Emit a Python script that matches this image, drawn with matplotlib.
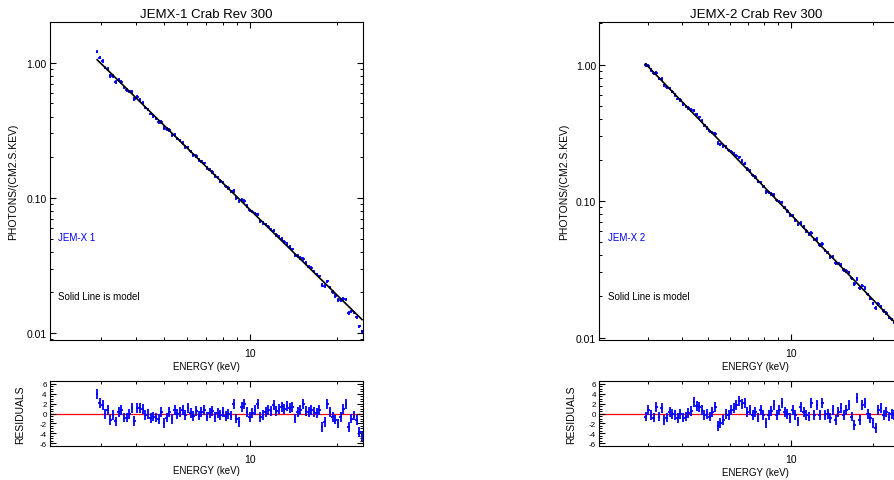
import numpy as np
import matplotlib
matplotlib.use('Agg')
import matplotlib.pyplot as plt
from matplotlib.ticker import FixedLocator, FixedFormatter, NullFormatter, MultipleLocator

plt.rcParams['font.family'] = ['Liberation Sans', 'DejaVu Sans']
plt.rcParams['axes.unicode_minus'] = False

# JEM-X 1 spectrum (keV, photons/cm2/s/keV, normalised residuals)
energy_1 = [
    2.92, 2.98, 3.05, 3.11, 3.18, 3.25, 3.32, 3.39, 3.47, 3.54,
    3.62, 3.70, 3.78, 3.86, 3.94, 4.03, 4.12, 4.21, 4.30, 4.39,
    4.49, 4.59, 4.69, 4.79, 4.89, 5.00, 5.11, 5.22, 5.33, 5.45,
    5.56, 5.68, 5.81, 5.93, 6.06, 6.19, 6.33, 6.47, 6.61, 6.75,
    6.90, 7.05, 7.20, 7.36, 7.52, 7.68, 7.85, 8.02, 8.19, 8.37,
    8.55, 8.74, 8.93, 9.12, 9.32, 9.52, 9.72, 9.94, 10.15, 10.37,
    10.60, 10.83, 11.06, 11.30, 11.55, 11.80, 12.06, 12.32, 12.59, 12.86,
    13.14, 13.43, 13.72, 14.02, 14.32, 14.63, 14.95, 15.28, 15.61, 15.95,
    16.29, 16.65, 17.01, 17.38, 17.76, 18.14, 18.54, 18.94, 19.35, 19.77,
    20.20, 20.64, 21.09, 21.55, 22.02, 22.50, 22.98, 23.48, 23.99, 24.51]
flux_1 = [
    1.21, 1.09, 1.03, 0.920, 0.904, 0.797, 0.798, 0.720, 0.745, 0.723,
    0.657, 0.628, 0.613, 0.608, 0.537, 0.557, 0.532, 0.507, 0.466, 0.450,
    0.421, 0.405, 0.386, 0.366, 0.364, 0.328, 0.323, 0.318, 0.293, 0.293,
    0.275, 0.266, 0.256, 0.239, 0.237, 0.221, 0.208, 0.204, 0.191, 0.186,
    0.180, 0.166, 0.162, 0.156, 0.145, 0.142, 0.134, 0.130, 0.122, 0.118,
    0.112, 0.113, 0.100, 0.0943, 0.0973, 0.0946, 0.0868, 0.0810, 0.0792, 0.0767,
    0.0757, 0.0677, 0.0654, 0.0636, 0.0614, 0.0585, 0.0574, 0.0534, 0.0517, 0.0499,
    0.0471, 0.0458, 0.0434, 0.0416, 0.0376, 0.0372, 0.0359, 0.0354, 0.0329, 0.0311,
    0.0302, 0.0285, 0.0272, 0.0263, 0.0227, 0.0224, 0.0242, 0.0218, 0.0201, 0.0189,
    0.0176, 0.0176, 0.0179, 0.0178, 0.0141, 0.0145, 0.0142, 0.0131, 0.0112, 0.0103]
resid_1 = [
    3.9, 2.1, 1.7, 0.0, 0.7, -1.3, -0.2, -1.6, 0.3, 0.7,
    -0.8, -0.8, -0.1, 1.1, -1.5, 1.2, 1.1, 1.0, -0.3, 0.0,
    -0.9, -0.6, -0.8, -1.1, 0.4, -1.9, -0.8, 0.4, -1.1, 0.7,
    0.0, 0.4, 0.7, -0.3, 1.1, 0.2, -0.5, 0.6, -0.4, 0.3,
    0.8, -0.6, 0.1, 0.5, -0.7, 0.2, -0.3, 0.4, -0.5, 0.0,
    -0.4, 2.0, -1.0, -1.7, 1.3, 2.0, 0.3, -0.7, 0.2, 0.7,
    2.0, -0.7, -0.3, 0.4, 0.7, 0.6, 1.7, 0.5, 1.0, 1.4,
    0.9, 1.5, 1.1, 1.3, -1.0, 0.3, 0.7, 2.0, 0.6, 0.3,
    0.8, 0.4, 0.2, 0.7, -2.7, -1.7, 2.0, 0.3, -0.7, -1.2,
    -2.0, -0.7, 1.0, 2.0, -2.7, -1.0, -0.4, -1.3, -3.7, -4.5]

# JEM-X 2 spectrum
energy_2 = [
    2.95, 3.02, 3.09, 3.16, 3.23, 3.30, 3.38, 3.45, 3.53, 3.61,
    3.70, 3.78, 3.87, 3.95, 4.05, 4.14, 4.23, 4.33, 4.43, 4.53,
    4.63, 4.74, 4.84, 4.95, 5.07, 5.18, 5.30, 5.42, 5.54, 5.67,
    5.80, 5.93, 6.07, 6.20, 6.34, 6.49, 6.64, 6.79, 6.94, 7.10,
    7.26, 7.43, 7.60, 7.77, 7.95, 8.13, 8.31, 8.50, 8.69, 8.89,
    9.09, 9.30, 9.51, 9.73, 9.95, 10.18, 10.41, 10.64, 10.89, 11.14,
    11.39, 11.65, 11.91, 12.19, 12.46, 12.75, 13.04, 13.33, 13.63, 13.95,
    14.26, 14.59, 14.92, 15.26, 15.61, 15.96, 16.32, 16.70, 17.08, 17.47,
    17.86, 18.27, 18.69, 19.11, 19.54, 19.99, 20.45, 20.91, 21.38, 21.88,
    22.37, 22.88, 23.39, 23.93, 24.47, 25.03, 25.60, 26.18, 26.78, 27.39]
flux_2 = [
    0.996, 0.981, 0.914, 0.861, 0.868, 0.788, 0.784, 0.705, 0.681, 0.670,
    0.633, 0.599, 0.563, 0.550, 0.514, 0.493, 0.480, 0.463, 0.460, 0.432,
    0.410, 0.385, 0.358, 0.344, 0.324, 0.317, 0.310, 0.267, 0.260, 0.252,
    0.248, 0.235, 0.230, 0.222, 0.215, 0.209, 0.196, 0.188, 0.172, 0.166,
    0.154, 0.150, 0.139, 0.137, 0.128, 0.117, 0.116, 0.113, 0.111, 0.101,
    0.0990, 0.0978, 0.0895, 0.0845, 0.0789, 0.0783, 0.0729, 0.0673, 0.0692, 0.0644,
    0.0604, 0.0572, 0.0584, 0.0525, 0.0526, 0.0478, 0.0484, 0.0436, 0.0419, 0.0391,
    0.0388, 0.0352, 0.0350, 0.0341, 0.0314, 0.0307, 0.0300, 0.0271, 0.0247, 0.0269,
    0.0231, 0.0240, 0.0231, 0.0207, 0.0193, 0.0178, 0.0164, 0.0176, 0.0169, 0.0156,
    0.0152, 0.0140, 0.0136, 0.0129, 0.0126, 0.0117, 0.0114, 0.0111, 0.0101, 0.0099]
resid_2 = [
    -0.6, 0.7, -0.3, -0.8, 1.4, -0.6, 1.1, -1.3, -0.8, 0.4,
    0.0, -0.3, -0.9, 0.0, -0.8, -0.6, 0.2, 0.6, 2.3, 1.6,
    1.4, 0.7, -0.3, 0.0, -0.6, 0.4, 1.4, -2.6, -1.9, -1.3,
    0.0, -0.3, 0.7, 1.1, 1.7, 2.5, 1.9, 2.1, 0.4, 0.7,
    -0.3, 0.4, -0.8, 0.7, -0.3, -1.9, -0.3, 0.5, 1.7, -0.3,
    0.7, 2.1, 0.4, 0.0, -0.9, 0.7, -0.3, -1.6, 1.4, 0.4,
    -0.3, -0.6, 2.1, -0.3, 1.7, -0.3, 2.1, -0.3, 0.0, -0.9,
    0.7, -1.3, 0.4, 1.1, -0.3, 0.7, 1.7, -0.6, -2.3, 3.1,
    -1.3, 1.7, 2.1, 0.0, -0.9, -1.9, -2.9, 0.7, 1.1, -0.3,
    0.4, -0.6, 0.0, -0.3, 0.5, -0.4, 0.2, 0.8, -0.5, 0.3]

# power-law model parameters (norm, photon index)
model_1 = (9.77, 2.08)
model_2 = (9.6, 2.08)
flux_frac_err = 0.03


def bin_halfwidths(e):
    e = np.asarray(e)
    edges = np.sqrt(e[:-1] * e[1:])
    lo = np.concatenate([[e[0] ** 2 / edges[0]], edges])
    hi = np.concatenate([edges, [e[-1] ** 2 / edges[-1]]])
    return np.vstack([e - lo, hi - e])


def style_xaxis(ax, pad):
    ax.set_xscale('log')
    ax.xaxis.set_major_locator(FixedLocator([10]))
    ax.xaxis.set_major_formatter(FixedFormatter(['10']))
    ax.xaxis.set_minor_locator(FixedLocator([2, 3, 4, 5, 6, 7, 8, 9, 20]))
    ax.xaxis.set_minor_formatter(NullFormatter())
    ax.tick_params(axis='x', which='both', direction='in', top=True, bottom=True,
                   labelsize=7.5, pad=pad)
    ax.tick_params(axis='both', which='major', length=4.5, width=0.8)
    ax.tick_params(axis='both', which='minor', length=2.3, width=0.7)


def draw_detector(fig, left, title, label, energy, flux, resid, model, xlim, ylim,
                  ylab_x, rlab_x, rxlab_y):
    energy = np.asarray(energy)
    flux = np.asarray(flux)
    xe = bin_halfwidths(energy)
    norm, index = model

    ax = fig.add_axes([left, 0.2911, 0.3497, 0.6611])
    ax.set_yscale('log')
    ax.errorbar(energy, flux, xerr=xe, yerr=flux * flux_frac_err, fmt='none',
                ecolor='blue', elinewidth=1.3, capsize=0, zorder=2)
    ax.plot(energy, norm * energy ** -index, color='black', lw=1.2, zorder=3)
    ax.set_xlim(*xlim)
    ax.set_ylim(*ylim)
    style_xaxis(ax, 5.5)
    ax.yaxis.set_major_locator(FixedLocator([0.01, 0.1, 1.0]))
    ax.yaxis.set_major_formatter(FixedFormatter(['0.01', '0.10', '1.00']))
    ax.yaxis.set_minor_locator(FixedLocator(
        [m * d for d in (0.001, 0.01, 0.1, 1.0) for m in range(2, 10)]))
    ax.yaxis.set_minor_formatter(NullFormatter())
    ax.tick_params(axis='y', which='both', direction='in', left=True, right=True,
                   labelsize=7.5, pad=2.4)
    ax.tick_params(axis='both', which='major', length=4.5, width=0.8)
    ax.tick_params(axis='both', which='minor', length=2.3, width=0.7)
    ax.set_title(title, fontsize=9.5, pad=3.5)
    ax.set_xlabel('ENERGY (keV)', fontsize=7)
    ax.set_ylabel('PHOTONS/(CM2.S.KEV)', fontsize=7.5)
    ax.xaxis.set_label_coords(0.5, -0.065)
    ax.yaxis.set_label_coords(ylab_x, 0.5)
    ax.text(0.027, 0.324, label, color='blue', fontsize=7, va='center',
            transform=ax.transAxes)
    ax.text(0.027, 0.138, 'Solid Line is model', color='black', fontsize=7,
            va='center', transform=ax.transAxes)

    axr = fig.add_axes([left, 0.0707, 0.3497, 0.1351])
    axr.axhline(0, color='red', lw=0.9, zorder=1)
    axr.errorbar(energy, resid, xerr=xe, yerr=1.0, fmt='none', ecolor='blue',
                 elinewidth=1.3, capsize=0, zorder=2)
    axr.set_xlim(*xlim)
    axr.set_ylim(-6.5, 6.5)
    style_xaxis(axr, 5.8)
    axr.yaxis.set_major_locator(MultipleLocator(2))
    axr.yaxis.set_minor_locator(MultipleLocator(0.5))
    axr.tick_params(axis='y', which='both', direction='in', left=True, right=True,
                    labelsize=5.8, pad=2.4)
    axr.tick_params(axis='both', which='major', length=4.5, width=0.8)
    axr.tick_params(axis='both', which='minor', length=2.3, width=0.7)
    axr.set_xlabel('ENERGY (keV)', fontsize=7)
    axr.set_ylabel('RESIDUALS', fontsize=7.5)
    axr.xaxis.set_label_coords(0.5, rxlab_y)
    axr.yaxis.set_label_coords(rlab_x, 0.5)

    for a in (ax, axr):
        for s in a.spines.values():
            s.set_linewidth(0.8)


fig = plt.figure(figsize=(8.95, 4.81), dpi=100)
draw_detector(fig, 0.0559, 'JEMX-1 Crab Rev 300', 'JEM-X 1', energy_1, flux_1, resid_1,
              model_1, (2.0, 24.7), (0.0089, 2.0), -0.101, -0.080, -0.297)
draw_detector(fig, 0.6696, 'JEMX-2 Crab Rev 300', 'JEM-X 2', energy_2, flux_2, resid_2,
              model_2, (2.0, 27.8), (0.0096, 2.05), -0.096, -0.073, -0.33)
fig.savefig('out.png', dpi=100)
